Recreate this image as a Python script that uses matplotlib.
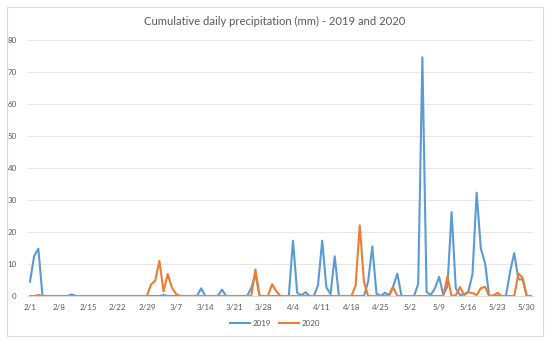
import matplotlib
matplotlib.use("Agg")
import matplotlib.pyplot as plt
from matplotlib.lines import Line2D
from matplotlib.patches import Rectangle

# daily values 2/1 .. 5/31 (121 days)
precip_2019 = [
    4.5, 12.5, 14.8, 0, 0, 0, 0, 0, 0, 0,
    0.5, 0, 0, 0, 0, 0, 0, 0, 0, 0,
    0, 0, 0, 0, 0, 0, 0, 0, 0, 0,
    0, 0, 0.3, 0, 0, 0, 0, 0, 0, 0,
    0, 2.4, 0, 0, 0, 0, 2.0, 0, 0, 0,
    0, 0, 0, 2.5, 6.8, 0, 0, 0, 0, 0,
    0, 0, 0, 17.3, 1.0, 0.2, 1.2, 0, 0, 3.4,
    17.3, 2.7, 0.6, 12.4, 0, 0, 0, 0, 0, 0,
    0, 4.5, 15.5, 0.8, 0, 1.0, 0.3, 3.0, 7.0, 0,
    0, 0, 0, 3.8, 74.6, 1.3, 0.3, 2.4, 6.0, 0.4,
    3.0, 26.2, 2.4, 0.3, 0.5, 1.4, 6.8, 32.3, 14.8, 10.4,
    0, 0, 0, 0, 0, 7.5, 13.4, 5.2, 5.2, 0,
    0,
]
precip_2020 = [
    0, 0, 0.3, 0, 0, 0, 0, 0, 0, 0,
    0, 0, 0, 0, 0, 0, 0, 0, 0, 0,
    0, 0, 0, 0, 0, 0, 0, 0, 0, 3.6,
    4.8, 11.0, 1.4, 6.9, 2.6, 0.6, 0, 0, 0, 0,
    0, 0, 0, 0, 0, 0, 0, 0, 0, 0,
    0, 0, 0, 0, 8.3, 0, 0, 0, 3.7, 1.5,
    0, 0, 0, 0, 0, 0, 0, 0, 0, 0,
    0, 0, 0, 0, 0, 0, 0, 0, 3.3, 22.1,
    4.4, 0, 0, 0, 0, 0, 0, 2.7, 0, 0,
    0, 0, 0, 0, 0, 0, 0, 0, 0, 0,
    6.1, 0, 0.2, 2.8, 0.3, 1.2, 0.9, 0.3, 2.4, 2.9,
    0, 0.2, 1.0, 0, 0, 0, 0, 7.0, 5.7, 0,
    0,
]
tick_labels = ["2/1", "2/8", "2/15", "2/22", "2/29", "3/7", "3/14", "3/21", "3/28",
               "4/4", "4/11", "4/18", "4/25", "5/2", "5/9", "5/16", "5/23", "5/30"]

BLUE = "#5B9BD5"
ORANGE = "#ED7D31"
GRAY = "#595959"
W, H = 550, 344

fig = plt.figure(figsize=(5.5, 3.44), dpi=100)
plt.rcParams["font.family"] = ["Lato", "DejaVu Sans"]

# chart area border
fig.patches.append(Rectangle((7 / W, 1 - 336 / H), 536 / W, 329 / H,
                             transform=fig.transFigure, fill=False,
                             edgecolor="#D9D9D9", linewidth=0.8))

ax = fig.add_axes([27.9 / W, 1 - 296 / H, 505.1 / W, 256 / H])
days = list(range(len(precip_2019)))
ax.plot(days, precip_2019, color=BLUE, linewidth=1.5, label="2019")
ax.plot(days, precip_2020, color=ORANGE, linewidth=1.5, label="2020")

ax.set_xlim(-0.5, len(days) - 0.5)
ax.set_ylim(0, 80)
ax.set_yticks(range(0, 81, 10))
ax.set_xticks(range(0, 7 * len(tick_labels), 7))
ax.set_xticklabels(tick_labels)
ax.tick_params(axis="both", length=0, labelsize=5.8, labelcolor=GRAY)
ax.tick_params(axis="x", pad=6)
ax.tick_params(axis="y", pad=8)
ax.grid(axis="y", color="#E6E6E6", linewidth=0.8)
ax.set_axisbelow(True)
for side in ["top", "right", "left"]:
    ax.spines[side].set_visible(False)
ax.spines["bottom"].set_color("#D9D9D9")

fig.text(0.5, 1 - 21 / H, "Cumulative daily precipitation (mm) - 2019 and 2020",
         ha="center", va="center", fontsize=8.1, color=GRAY)

handles = [Line2D([], [], color=BLUE, linewidth=1.5),
           Line2D([], [], color=ORANGE, linewidth=1.5)]
fig.legend(handles, ["2019", "2020"], loc="center", bbox_to_anchor=(0.5, 1 - 323 / H),
           ncol=2, frameon=False, fontsize=5.8, labelcolor=GRAY,
           handlelength=2.5, handletextpad=0.3, columnspacing=1.0)

fig.savefig("out.png", dpi=100)
